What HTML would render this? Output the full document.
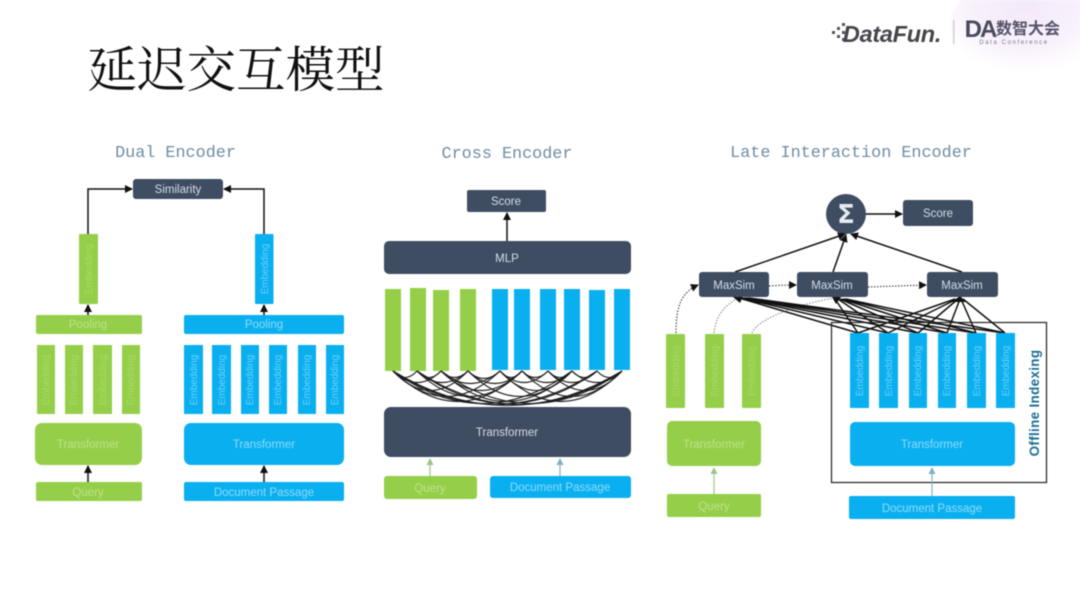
<!DOCTYPE html>
<html><head><meta charset="utf-8"><style>
html,body{margin:0;padding:0;background:#fff;width:1080px;height:591px;overflow:hidden}
svg{display:block;filter:blur(.6px)}
text{font-family:"Liberation Sans","Noto Sans CJK SC",sans-serif;text-anchor:middle}
.t{font-family:"Liberation Mono",monospace;font-size:16.8px;fill:#6f8da2}
.w{fill:#d5dce6;font-size:11.5px}
.g{fill:#bde28c;font-size:11.5px}
.b{fill:#8ddcfa;font-size:11.5px}
.vg{fill:#a7d86a;font-size:10px}
.vb{fill:#6bd0f7;font-size:10px}
.gr{fill:#95cf49}.bl{fill:#0aaff0}.dk{fill:#3f4d63}
.l{stroke:#111;stroke-width:1.5;fill:none}
.a{stroke:#2b2b2b;fill:none;stroke-width:1;stroke-dasharray:1.5 1.5}
.arc{stroke:#1c1c1c;fill:none;stroke-width:1.1}
</style></head><body>
<svg width="1080" height="591" viewBox="0 0 1080 591" xmlns="http://www.w3.org/2000/svg">
<defs>
<radialGradient id="pk" cx="50%" cy="30%" r="60%"><stop offset="0" stop-color="#f4e9f9"/><stop offset=".6" stop-color="#f8f1fc"/><stop offset="1" stop-color="#fff"/></radialGradient>
<marker id="ar" markerWidth="9" markerHeight="9" refX="7" refY="4" orient="auto" markerUnits="userSpaceOnUse"><path d="M0 0L8 4L0 8z" fill="#111"/></marker>
<marker id="ag" markerWidth="8" markerHeight="8" refX="6" refY="3.5" orient="auto" markerUnits="userSpaceOnUse"><path d="M0 0L7 3.5L0 7z" fill="#9cc48a"/></marker>
<marker id="ab" markerWidth="8" markerHeight="8" refX="6" refY="3.5" orient="auto" markerUnits="userSpaceOnUse"><path d="M0 0L7 3.5L0 7z" fill="#7fb0c8"/></marker>
</defs>
<rect width="1080" height="591" fill="#fff"/>
<ellipse cx="1025" cy="28" rx="75" ry="56" fill="url(#pk)"/>

<!-- header -->
<text x="236" y="87" style="font-family:'Noto Serif CJK SC','Liberation Serif',serif;font-size:49.500px;fill:#111">延迟交互模型</text>
<g fill="#555">
<rect x="832" y="31" width="3" height="3"/><rect x="837" y="27" width="3" height="3"/><rect x="837" y="35" width="3" height="3"/><rect x="842" y="23" width="3" height="3"/><rect x="842" y="31" width="3" height="3"/><rect x="842" y="38" width="3" height="3"/>
</g>
<text x="892" y="42" style="font-size:23.500px;font-weight:bold;font-style:italic;fill:#45454c;letter-spacing:-.3px">DataFun.</text>
<rect x="953" y="20" width="1.5" height="24" fill="#cfcfd4"/>
<text x="980" y="37" style="font-size:24px;font-weight:bold;fill:#4b4a5c;letter-spacing:-2px">DA</text>
<text x="1028" y="34" style="font-size:16px;font-weight:bold;fill:#55546a">数智大会</text>
<text x="1014" y="44" style="font-size:6px;fill:#77778a;letter-spacing:1.6px">Data Conference</text>

<!-- titles -->
<text class="t" x="175.500" y="157">Dual Encoder</text>
<text class="t" x="507" y="158">Cross Encoder</text>
<text class="t" x="851" y="157">Late Interaction Encoder</text>

<!-- Dual Encoder -->
<rect class="dk" x="133" y="179" width="90" height="20" rx="3"/><text class="w" x="178" y="193">Similarity</text>
<path class="l" d="M88 234V189H132" marker-end="url(#ar)"/>
<path class="l" d="M264 234V189H224" marker-end="url(#ar)"/>
<path class="l" d="M88 315V305" marker-end="url(#ar)"/>
<path class="l" d="M264 315V305" marker-end="url(#ar)"/>
<path class="l" d="M88 482V466" marker-end="url(#ar)"/>
<path class="l" d="M264 482V466" marker-end="url(#ar)"/>
<rect class="gr" x="79" y="234" width="19" height="70" rx="1"/>
<rect class="bl" x="255" y="234" width="18.500" height="70" rx="1"/>
<text class="vg" transform="translate(92 269) rotate(-90)">Embedding</text>
<text class="vb" transform="translate(268 269) rotate(-90)">Embedding</text>
<rect class="gr" x="36" y="315" width="106" height="19" rx="2"/><text class="g" x="88" y="328">Pooling</text>
<rect class="bl" x="184" y="315" width="160" height="19" rx="2"/><text class="b" x="264" y="328">Pooling</text>
<rect class="gr" x="37" y="345" width="18" height="69"/><rect class="gr" x="65" y="345" width="18" height="69"/><rect class="gr" x="93" y="345" width="19" height="69"/><rect class="gr" x="122" y="345" width="18" height="69"/>
<rect class="bl" x="184" y="345" width="19" height="69"/><rect class="bl" x="212" y="345" width="19" height="69"/><rect class="bl" x="241" y="345" width="18" height="69"/><rect class="bl" x="269" y="345" width="18" height="69"/><rect class="bl" x="298" y="345" width="18" height="69"/><rect class="bl" x="326" y="345" width="18" height="69"/>
<text class="vg" transform="translate(49 380) rotate(-90)">Embedding</text><text class="vg" transform="translate(77 380) rotate(-90)">Embedding</text><text class="vg" transform="translate(106 380) rotate(-90)">Embedding</text><text class="vg" transform="translate(134 380) rotate(-90)">Embedding</text>
<text class="vb" transform="translate(197 380) rotate(-90)">Embedding</text><text class="vb" transform="translate(225 380) rotate(-90)">Embedding</text><text class="vb" transform="translate(253 380) rotate(-90)">Embedding</text><text class="vb" transform="translate(281 380) rotate(-90)">Embedding</text><text class="vb" transform="translate(310 380) rotate(-90)">Embedding</text><text class="vb" transform="translate(338 380) rotate(-90)">Embedding</text>
<rect class="gr" x="35" y="423" width="107" height="42" rx="7"/><text class="g" x="88" y="448">Transformer</text>
<rect class="bl" x="184" y="423" width="160" height="42" rx="7"/><text class="b" x="264" y="448">Transformer</text>
<rect class="gr" x="36" y="482" width="106" height="19" rx="2"/><text class="g" x="88" y="496">Query</text>
<rect class="bl" x="184" y="482" width="160" height="19" rx="2"/><text class="b" x="264" y="496">Document Passage</text>

<!-- Cross Encoder -->
<rect class="dk" x="467" y="190" width="79" height="22" rx="2"/><text class="w" x="506" y="205">Score</text>
<path class="l" d="M507 241V213" marker-end="url(#ar)"/>
<rect class="dk" x="384" y="241" width="247" height="33" rx="5"/><text class="w" x="507" y="262">MLP</text>
<rect class="gr" x="385" y="289" width="16" height="82"/><rect class="gr" x="410" y="288" width="16" height="83"/><rect class="gr" x="433" y="290" width="16" height="81"/><rect class="gr" x="460" y="289" width="16" height="82"/>
<rect class="bl" x="492" y="289" width="16" height="81"/><rect class="bl" x="514" y="289" width="16" height="81"/><rect class="bl" x="540" y="289" width="16" height="81"/><rect class="bl" x="564" y="289" width="16" height="81"/><rect class="bl" x="589" y="290" width="16" height="80"/><rect class="bl" x="614" y="289" width="16" height="81"/>
<g class="arc">
<path d="M393 371Q405 384 417 371M417 371Q429 384 441 371M441 371Q454 384 468 371M468 371Q484 386 500 371M500 371Q511 384 522 371M522 371Q535 384 548 371M548 371Q560 384 572 371M572 371Q584 384 597 371M597 371Q609 384 622 371"/>
<path d="M393 371Q417 394 441 371M417 371Q442 394 468 371M441 371Q470 396 500 371M468 371Q495 396 522 371M500 371Q524 394 548 371M522 371Q547 394 572 371M548 371Q572 394 597 371M572 371Q597 394 622 371"/>
<path d="M393 371Q430 410 468 371M441 371Q481 410 522 371M500 371Q536 410 572 371M548 371Q585 410 622 371"/>
<path d="M393 371Q446 422 500 371M417 371Q470 422 522 371M468 371Q520 422 572 371M522 371Q572 422 622 371"/>
<path d="M393 371Q458 432 522 371M441 371Q506 432 572 371M500 371Q561 432 622 371"/>
<path d="M393 371Q482 436 572 371M417 371Q507 436 597 371M441 371Q531 436 622 371"/>
<path d="M393 371Q495 438 597 371M417 371Q519 438 622 371M393 371Q507 440 622 371"/>
</g>
<rect class="dk" x="384" y="407" width="247" height="50" rx="7"/><text class="w" x="507" y="436">Transformer</text>
<path d="M430 476V459" stroke="#9cc48a" stroke-width="1.2" fill="none" marker-end="url(#ag)"/>
<path d="M560 476V459" stroke="#7fb0c8" stroke-width="1.2" fill="none" marker-end="url(#ab)"/>
<rect class="gr" x="384" y="476" width="93" height="23" rx="3"/><text class="g" x="430" y="492">Query</text>
<rect class="bl" x="490" y="476" width="141" height="22" rx="3"/><text class="b" x="560" y="491">Document Passage</text>

<!-- Late Interaction -->
<g class="l">
<path d="M858 333L739 298M888 333L741 298M918 333L743 298M947 333L745 298M976 333L747 298M1005 333L749 298"/>
<path d="M858 333L835 299M888 333L838 299M918 333L840 299M947 333L842 299M976 333L844 299M1005 333L846 299"/>
<path d="M858 333L955 299M888 333L957 299M918 333L958 299M947 333L960 299M976 333L961 299M1005 333L963 299"/>
</g>
<path d="M733 297l10-1-3 7zM832 297l9 0-5 7zM960 296l-8 6 14 0z" fill="#111"/>
<circle class="dk" cx="846" cy="214" r="20"/>
<text x="846" y="223" style="font-size:26px;font-weight:bold;fill:#e7ecf2;font-family:'DejaVu Sans',sans-serif">Σ</text>
<rect class="dk" x="903" y="200" width="70" height="26" rx="3"/><text class="w" x="938" y="217">Score</text>
<path class="l" d="M866 214H902" marker-end="url(#ar)"/>
<path class="l" d="M735 272L845 234" marker-end="url(#ar)"/>
<path class="l" d="M833 272L846 235" marker-end="url(#ar)"/>
<path class="l" d="M962 272L851 234" marker-end="url(#ar)"/>
<rect class="dk" x="699" y="272" width="70" height="25" rx="3"/><text class="w" x="734" y="289">MaxSim</text>
<rect class="dk" x="797" y="272" width="71" height="25" rx="3"/><text class="w" x="832" y="289">MaxSim</text>
<rect class="dk" x="927" y="272" width="71" height="25" rx="3"/><text class="w" x="962" y="289">MaxSim</text>
<path class="a" d="M676 333C676 305 682 292 698 285" marker-end="url(#ar)"/>
<path class="a" d="M714 333C716 312 728 304 738 298" stroke-opacity=".6"/>
<path class="a" d="M752 333C758 318 800 304 834 298" stroke-opacity=".6"/>
<path class="a" d="M769 286Q783 285 796 285" marker-end="url(#ar)"/>
<path class="a" d="M868 287Q897 286 926 285" marker-end="url(#ar)"/>
<rect x="831.500" y="322.500" width="215" height="160" fill="none" stroke="#222" stroke-width="1.2"/>
<text transform="translate(1039 403) rotate(-90)" style="font-size:13.500px;font-weight:bold;fill:#1b6f92;letter-spacing:.3px">Offline Indexing</text>
<rect class="gr" x="666" y="334" width="19" height="74" rx="1"/><rect class="gr" x="705" y="334" width="19" height="74" rx="1"/><rect class="gr" x="742" y="334" width="19" height="74" rx="1"/>
<text class="vg" transform="translate(679 371) rotate(-90)">Embedding</text><text class="vg" transform="translate(718 371) rotate(-90)">Embedding</text><text class="vg" transform="translate(755 371) rotate(-90)">Embedding</text>
<rect class="bl" x="850" y="333" width="19" height="75"/><rect class="bl" x="879" y="333" width="19" height="75"/><rect class="bl" x="909" y="333" width="18" height="75"/><rect class="bl" x="938" y="333" width="18" height="75"/><rect class="bl" x="967" y="333" width="19" height="75"/><rect class="bl" x="996" y="333" width="19" height="75"/>
<text class="vb" transform="translate(863 371) rotate(-90)">Embedding</text><text class="vb" transform="translate(892 371) rotate(-90)">Embedding</text><text class="vb" transform="translate(921 371) rotate(-90)">Embedding</text><text class="vb" transform="translate(950 371) rotate(-90)">Embedding</text><text class="vb" transform="translate(980 371) rotate(-90)">Embedding</text><text class="vb" transform="translate(1009 371) rotate(-90)">Embedding</text>
<path d="M714 494V468" stroke="#9cc48a" stroke-width="1.2" fill="none" marker-end="url(#ag)"/>
<path d="M932 496V468" stroke="#7fb0c8" stroke-width="1.2" fill="none" marker-end="url(#ab)"/>
<rect class="gr" x="667" y="421" width="94" height="45" rx="5"/><text class="g" x="714" y="448">Transformer</text>
<rect class="bl" x="850" y="422" width="165" height="44" rx="5"/><text class="b" x="932" y="448">Transformer</text>
<rect class="gr" x="667" y="494" width="94" height="23" rx="2"/><text class="g" x="714" y="510">Query</text>
<rect class="bl" x="849" y="496" width="166" height="23" rx="2"/><text class="b" x="932" y="512">Document Passage</text>
</svg>
</body></html>
